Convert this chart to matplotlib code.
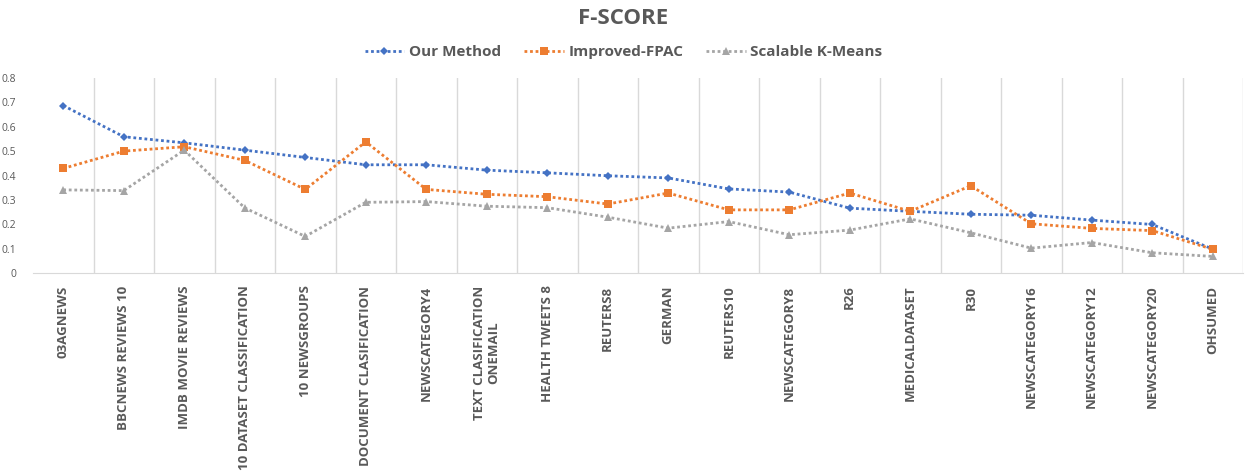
import numpy as np
import matplotlib
matplotlib.use('Agg')
import matplotlib.pyplot as plt

# data
categories = ['03AGNEWS', 'BBCNEWS REVIEWS 10', 'IMDB MOVIE REVIEWS', '10 DATASET CLASSIFICATION',
              '10 NEWSGROUPS', 'DOCUMENT CLASIFICATION', 'NEWSCATEGORY4', 'TEXT CLASIFICATION\nONEMAIL',
              'HEALTH TWEETS 8', 'REUTERS8', 'GERMAN', 'REUTERS10', 'NEWSCATEGORY8', 'R26',
              'MEDICALDATASET', 'R30', 'NEWSCATEGORY16', 'NEWSCATEGORY12', 'NEWSCATEGORY20', 'OHSUMED']
our_method = [0.687, 0.559, 0.534, 0.504, 0.474, 0.444, 0.444, 0.422, 0.411, 0.399,
              0.390, 0.345, 0.332, 0.266, 0.253, 0.241, 0.237, 0.217, 0.199, 0.098]
improved_fpac = [0.429, 0.500, 0.518, 0.462, 0.343, 0.538, 0.343, 0.323, 0.313, 0.283,
                 0.328, 0.259, 0.259, 0.328, 0.253, 0.358, 0.202, 0.183, 0.174, 0.097]
scalable_km = [0.341, 0.338, 0.504, 0.267, 0.150, 0.290, 0.293, 0.274, 0.268, 0.229,
               0.184, 0.211, 0.157, 0.176, 0.222, 0.165, 0.102, 0.125, 0.083, 0.068]
yticks = [0, 0.1, 0.2, 0.3, 0.4, 0.5, 0.6, 0.7, 0.8]

plt.rcParams['font.family'] = ['Open Sans', 'DejaVu Sans']
txt = '#595959'

fig = plt.figure(figsize=(12.47, 4.76), dpi=100)
ax = fig.add_axes([33 / 1247, 1 - 273 / 476, 1210 / 1247, 195 / 476])

x = np.arange(len(categories))
series = [
    ('Our Method', our_method, '#4472C4', 'D', 4.5),
    ('Improved-FPAC', improved_fpac, '#ED7D31', 's', 6),
    ('Scalable K-Means', scalable_km, '#A5A5A5', '^', 6),
]
for name, vals, col, mk, ms in series:
    ax.plot(x, vals, linestyle=(0, (1, 1)), linewidth=2, color=col,
            marker=mk, markersize=ms, markeredgewidth=0, label=name)

ax.set_xlim(-0.5, len(categories) - 0.5)
ax.set_ylim(0, 0.8)
ax.set_yticks(yticks)
ax.set_yticklabels([f'{v:g}' for v in yticks], fontsize=7.5, color=txt)
ax.tick_params(axis='y', length=0, pad=12)

# category boundaries as vertical grid lines (excel style)
ax.set_xticks(x + 0.5, minor=True)
ax.grid(True, which='minor', axis='x', color='#d9d9d9', linewidth=1)
ax.set_xticks(x)
ax.set_xticklabels(categories, rotation=90, fontsize=9.5, fontweight='bold',
                   color=txt, va='top', ha='center', multialignment='center',
                   linespacing=1.1)
ax.tick_params(axis='x', which='both', length=0, pad=9)

for s in ['top', 'right', 'left']:
    ax.spines[s].set_visible(False)
ax.spines['bottom'].set_color('#d9d9d9')

fig.text(0.5, 1 - 18 / 476, 'F-SCORE', ha='center', va='center',
         fontsize=16, fontweight='bold', color=txt)
leg = fig.legend(loc='center', bbox_to_anchor=(0.5, 1 - 52 / 476), ncol=3, frameon=False,
                 prop={'size': 11, 'weight': 'bold'}, handlelength=2.6, columnspacing=1.5,
                 handletextpad=0.3)
for t in leg.get_texts():
    t.set_color(txt)

fig.savefig('out.png', dpi=100)
